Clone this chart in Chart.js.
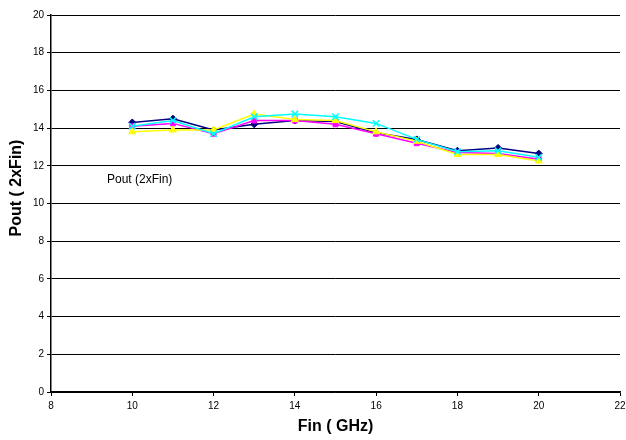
<!DOCTYPE html>
<html>
<head>
<meta charset="utf-8">
<script src="https://cdn.jsdelivr.net/npm/chart.js@4/dist/chart.umd.min.js"></script>
<style>
  body { margin: 0; background: #fff; }
  #wrap { width: 626px; height: 440px; }
</style>
</head>
<body>
<div id="wrap"><canvas id="chart"></canvas></div>
<script>
// Fin (GHz)
var fin = [10, 11, 12, 13, 14, 15, 16, 17, 18, 19, 20]
// Pout (2xFin), one array per curve
var poutNavy    = [14.3, 14.5, 13.9, 14.2, 14.4, 14.35, 13.75, 13.4, 12.8, 12.95, 12.65]
var poutMagenta = [14.1, 14.25, 13.7, 14.4, 14.4, 14.2, 13.7, 13.2, 12.7, 12.65, 12.35]
var poutYellow  = [13.8, 13.9, 13.9, 14.75, 14.45, 14.4, 13.8, 13.3, 12.6, 12.6, 12.25]
var poutCyan    = [14.1, 14.4, 13.7, 14.6, 14.75, 14.6, 14.25, 13.4, 12.75, 12.8, 12.45]

var FONT = '"Liberation Sans", Arial, sans-serif'

function pts(ys) {
    return fin.map(function (x, i) { return { x: x, y: ys[i] } })
}

function series(ys, color, shape, r) {
    return {
        data: pts(ys),
        borderColor: color,
        backgroundColor: color,
        borderWidth: 1.5,
        pointStyle: shape,
        pointRadius: r,
        pointBorderWidth: shape === 'crossRot' ? 1.5 : 1,
        tension: 0
    }
}

// y title and the text label inside the plot
var extraText = {
    id: 'extraText',
    afterDraw: function (chart) {
        var ctx = chart.ctx
        ctx.save()
        ctx.fillStyle = '#000'
        ctx.textBaseline = 'middle'
        ctx.font = '12px ' + FONT
        ctx.fillText('Pout (2xFin)', 107, 180)

        ctx.translate(17, 188)
        ctx.rotate(-Math.PI / 2)
        ctx.textAlign = 'center'
        ctx.font = 'bold 16px ' + FONT
        ctx.fillText('Pout ( 2xFin)', 0, 0)
        ctx.restore()
    }
}

new Chart(document.getElementById('chart').getContext('2d'), {
    type: 'line',
    data: {
        // later curves first so they sit on top, as in the original
        datasets: [
            series(poutCyan, '#00ffff', 'crossRot', 4.5),
            series(poutYellow, '#ffff00', 'triangle', 4),
            series(poutMagenta, '#ff00ff', 'rect', 3.5),
            series(poutNavy, '#000080', 'rectRot', 3.5)
        ]
    },
    options: {
        responsive: true,
        maintainAspectRatio: false,
        animation: false,
        layout: { padding: { top: 15, right: 0, left: 0, bottom: 0 } },
        plugins: {
            legend: { display: false },
            tooltip: { enabled: false }
        },
        scales: {
            x: {
                type: 'linear',
                min: 8,
                max: 22,
                ticks: {
                    stepSize: 2,
                    color: '#000',
                    padding: 4,
                    font: { family: FONT, size: 10 }
                },
                grid: { drawOnChartArea: false, color: '#000', tickLength: 4 },
                border: { color: '#000', width: 1.5 },
                title: {
                    display: true,
                    text: 'Fin ( GHz)',
                    color: '#000',
                    padding: { top: 5 },
                    font: { family: FONT, size: 16, weight: 'bold' }
                },
                afterFit: function (s) {
                    s.height = 48
                    s.paddingLeft = 0
                    s.paddingRight = 5
                }
            },
            y: {
                min: 0,
                max: 20,
                ticks: {
                    stepSize: 2,
                    color: '#000',
                    padding: 3,
                    font: { family: FONT, size: 10 }
                },
                grid: { color: '#000', lineWidth: 1, tickLength: 4 },
                border: { color: '#000', width: 1.5 },
                afterFit: function (s) { s.width = 51 }
            }
        }
    },
    plugins: [extraText]
})
</script>
</body>
</html>
